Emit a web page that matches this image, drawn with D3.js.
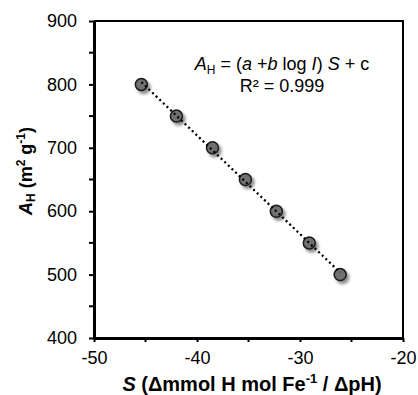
<!DOCTYPE html>
<html>
<head>
<meta charset="utf-8">
<script src="https://cdn.jsdelivr.net/npm/d3@7"></script>
<style>
  body { margin: 0; background: #fff; }
  svg text { font-family: "Liberation Sans", Arial, sans-serif; fill: #000; }
</style>
</head>
<body>
<svg width="418" height="395"></svg>
<script>
// values
const sValues = [-45.4, -42.0, -38.5, -35.3, -32.3, -29.1, -26.1]
const ahValues = [800, 750, 700, 650, 600, 550, 500]
const xTicks = [-50, -40, -30, -20]
const yTicks = [400, 500, 600, 700, 800, 900]

const svg = d3.select('svg')
const margin = { left: 94, right: 15, top: 21, bottom: 57 }
const width = 418 - margin.left - margin.right
const height = 395 - margin.top - margin.bottom

const x = d3.scaleLinear().domain([-50, -20]).range([margin.left, margin.left + width])
const y = d3.scaleLinear().domain([400, 900]).range([margin.top + height, margin.top])

// shadow behind the markers
const defs = svg.append('defs')
const filt = defs.append('filter').attr('id', 'shadow')
  .attr('x', '-50%').attr('y', '-50%').attr('width', '220%').attr('height', '220%')
filt.append('feDropShadow')
  .attr('dx', 2.5).attr('dy', 3).attr('stdDeviation', 1.8)
  .attr('flood-color', '#000').attr('flood-opacity', 0.45)

// frame (top and right)
svg.append('path')
  .attr('d', `M${x(-50)},${y(900)}H${x(-20)}V${y(400)}`)
  .attr('fill', 'none').attr('stroke', '#000').attr('stroke-width', 2)

// plain hyphen for negatives, like the original
const fmt = (d) => String(d)

// y axis
const yAxis = svg.append('g')
  .attr('transform', `translate(${x(-50)},0)`)
  .call(d3.axisLeft(y).tickValues(yTicks).tickFormat(fmt).tickSize(5).tickPadding(12).tickSizeOuter(0))
yAxis.append('g').selectAll('line')
  .data([450, 550, 650, 750, 850])
  .join('line')
  .attr('x1', -5).attr('x2', 0)
  .attr('y1', (d) => y(d)).attr('y2', (d) => y(d))
  .attr('stroke', '#000').attr('stroke-width', 2)

// x axis
const xAxis = svg.append('g')
  .attr('transform', `translate(0,${y(400)})`)
  .call(d3.axisBottom(x).tickValues(xTicks).tickFormat(fmt).tickSize(4).tickPadding(6).tickSizeOuter(0))
xAxis.append('g').selectAll('line')
  .data([-45, -35, -25])
  .join('line')
  .attr('x1', (d) => x(d)).attr('x2', (d) => x(d))
  .attr('y1', 0).attr('y2', 4)
  .attr('stroke', '#000').attr('stroke-width', 2)

for (const g of [xAxis, yAxis]) {
  g.select('.domain').attr('stroke-width', 3)
  g.selectAll('.tick line').attr('stroke-width', 2)
  g.selectAll('.tick text')
    .style('font-family', '"Liberation Sans", Arial, sans-serif')
    .style('font-size', '18px')
    .attr('fill', '#000')
}
xAxis.selectAll('.tick text').attr('dy', '0.9em')

// linear trend line
const mx = d3.mean(sValues)
const my = d3.mean(ahValues)
const slope = d3.sum(sValues, (v, i) => (v - mx) * (ahValues[i] - my)) /
  d3.sum(sValues, (v) => (v - mx) ** 2)
const icpt = my - slope * mx
const [x0, x1] = d3.extent(sValues)

// markers
svg.append('g')
  .selectAll('circle')
  .data(sValues)
  .join('circle')
  .attr('cx', (d) => x(d))
  .attr('cy', (d, i) => y(ahValues[i]))
  .attr('r', 6)
  .attr('fill', '#6f6f6f')
  .attr('stroke', '#1a1a1a')
  .attr('stroke-width', 1.5)
  .attr('filter', 'url(#shadow)')

svg.append('line')
  .attr('x1', x(x0)).attr('y1', y(slope * x0 + icpt))
  .attr('x2', x(x1)).attr('y2', y(slope * x1 + icpt))
  .attr('stroke', '#000')
  .attr('stroke-width', 2.3)
  .attr('stroke-dasharray', '2,3')

// equation
const eq = svg.append('text')
  .attr('x', 282).attr('y', 70)
  .attr('text-anchor', 'middle')
  .style('font-size', '18px')
eq.append('tspan').attr('font-style', 'italic').text('A')
eq.append('tspan').attr('font-size', '12px').attr('dy', 4).text('H')
eq.append('tspan').attr('dy', -4).text(' = (')
eq.append('tspan').attr('font-style', 'italic').text('a')
eq.append('tspan').text(' +')
eq.append('tspan').attr('font-style', 'italic').text('b')
eq.append('tspan').text(' log ')
eq.append('tspan').attr('font-style', 'italic').text('I')
eq.append('tspan').text(') ')
eq.append('tspan').attr('font-style', 'italic').text('S')
eq.append('tspan').text(' + c')

svg.append('text')
  .attr('x', 282).attr('y', 92)
  .attr('text-anchor', 'middle')
  .style('font-size', '18px')
  .text('R² = 0.999')

// x title
const xt = svg.append('text')
  .attr('x', 252).attr('y', 391)
  .attr('text-anchor', 'middle')
  .attr('font-weight', 'bold')
  .style('font-size', '20px')
xt.append('tspan').attr('font-style', 'italic').text('S')
xt.append('tspan').text(' (Δmmol H mol Fe')
xt.append('tspan').attr('font-size', '13px').attr('dy', -8).text('-1')
xt.append('tspan').attr('dy', 8).text(' / ΔpH)')

// y title
const yt = svg.append('text')
  .attr('transform', 'translate(32,171) rotate(-90)')
  .attr('text-anchor', 'middle')
  .attr('font-weight', 'bold')
  .style('font-size', '18px')
yt.append('tspan').attr('font-style', 'italic').text('A')
yt.append('tspan').attr('font-size', '12px').attr('dy', 3).text('H')
yt.append('tspan').attr('dy', -3).text(' (m')
yt.append('tspan').attr('font-size', '12px').attr('dy', -7).text('2')
yt.append('tspan').attr('dy', 7).text(' g')
yt.append('tspan').attr('font-size', '12px').attr('dy', -7).text('-1')
yt.append('tspan').attr('dy', 7).text(')')
</script>
</body>
</html>
